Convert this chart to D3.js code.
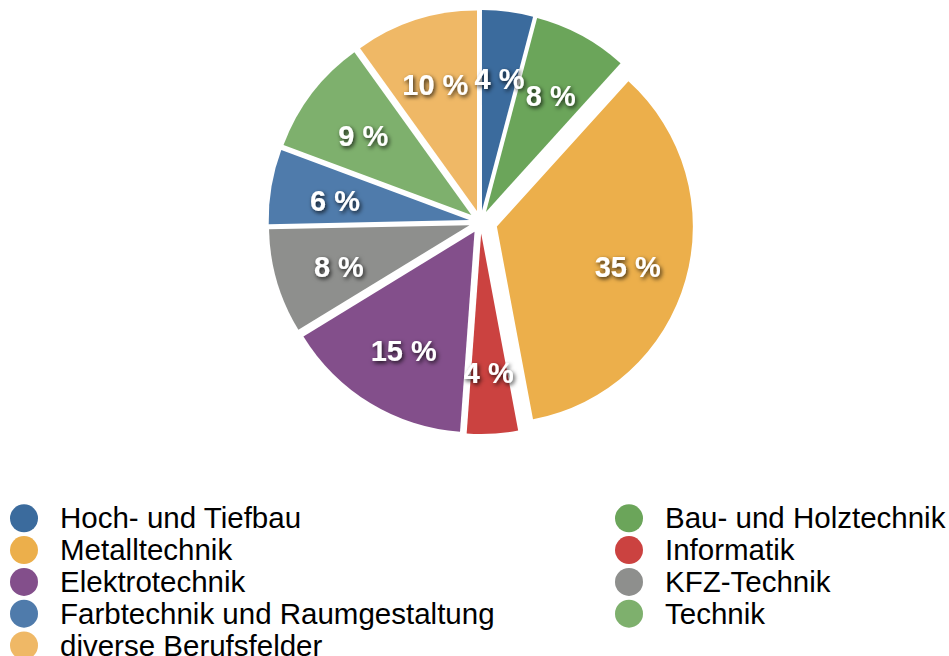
<!DOCTYPE html>
<html>
<head>
<meta charset="utf-8">
<script src="https://cdn.jsdelivr.net/npm/d3@7/dist/d3.min.js"></script>
<style>
  body { margin: 0; background: #fff; }
  svg { display: block; }
</style>
</head>
<body>
<script>
// Anteile der Berufsfelder (Prozent)
var categories = ["Hoch- und Tiefbau", "Bau- und Holztechnik", "Metalltechnik", "Informatik",
                  "Elektrotechnik", "KFZ-Technik", "Farbtechnik und Raumgestaltung", "Technik",
                  "diverse Berufsfelder"];
var values = [4.1, 7.6, 35.3, 4.1, 15.1, 8.4, 6.0, 9.4, 9.9];
var colors = ["#3b6b9d", "#6ba55a", "#ecaf4b", "#cb4240", "#834f8b",
              "#8e8f8d", "#4f7bab", "#7eb06d", "#efb866"];
var explodedCategory = "Metalltechnik";

var width = 949, height = 656;
var cx = 480.5, cy = 222;
var radius = 200.5, radiusExploded = 196;
var gap = 11.5, gapExploded = 17;
var labelDist = 136;

var svg = d3.select('body').append('svg').attr('width', width).attr('height', height);

var defs = svg.append('defs');
var f = defs.append('filter').attr('id', 'shadow')
        .attr('x', '-30%').attr('y', '-30%').attr('width', '160%').attr('height', '160%');
f.append('feDropShadow').attr('dx', 1.5).attr('dy', 2).attr('stdDeviation', 2)
        .attr('flood-color', '#000').attr('flood-opacity', 0.8);

var data = categories.map(function(c, i){ return {name: c, value: values[i], color: colors[i]}; });

var pie = d3.pie().sort(null).value(function(d){ return d.value; });
var arcs = pie(data);

var arcNormal = d3.arc().innerRadius(0).outerRadius(radius);
var arcBig = d3.arc().innerRadius(0).outerRadius(radiusExploded);

function offsetOf(d){
        var a = (d.startAngle + d.endAngle) / 2;
        var g = d.data.name === explodedCategory ? gapExploded : gap;
        return [cx + g * Math.sin(a), cy - g * Math.cos(a), a];
}

var slices = svg.append('g');
slices.selectAll('path').data(arcs).enter().append('path')
        .attr('d', function(d){ return d.data.name === explodedCategory ? arcBig(d) : arcNormal(d); })
        .attr('transform', function(d){ var o = offsetOf(d); return 'translate(' + o[0] + ',' + o[1] + ')'; })
        .style('fill', function(d){ return d.data.color; });

var total = d3.sum(values);
svg.append('g').selectAll('text').data(arcs).enter().append('text')
        .text(function(d){ return Math.round(d.data.value / total * 100) + ' %'; })
        .attr('x', function(d){ var o = offsetOf(d); return o[0] + labelDist * Math.sin(o[2]); })
        .attr('y', function(d){ var o = offsetOf(d); return o[1] - labelDist * Math.cos(o[2]) + 13.5; })
        .attr('text-anchor', 'middle')
        .attr('fill', 'white')
        .attr('filter', 'url(#shadow)')
        .style('font-family', '"Helvetica Neue", Helvetica, Arial, "Liberation Sans", sans-serif')
        .style('font-weight', 'bold')
        .style('font-size', '29px');

// Legende, zwei Spalten
var colX = [24, 629], rowY0 = 518.3, rowStep = 31.8;
var legend = svg.append('g').selectAll('g').data(data).enter().append('g')
        .attr('transform', function(d, i){
                return 'translate(' + colX[i % 2] + ',' + (rowY0 + Math.floor(i / 2) * rowStep) + ')';
        });
legend.append('circle').attr('r', 14).style('fill', function(d){ return d.color; });
legend.append('text').text(function(d){ return d.name; })
        .attr('x', 36).attr('y', 10)
        .attr('fill', '#000')
        .style('font-family', '"Helvetica Neue", Helvetica, Arial, "Liberation Sans", sans-serif')
        .style('font-size', '29.5px');
</script>
</body>
</html>
